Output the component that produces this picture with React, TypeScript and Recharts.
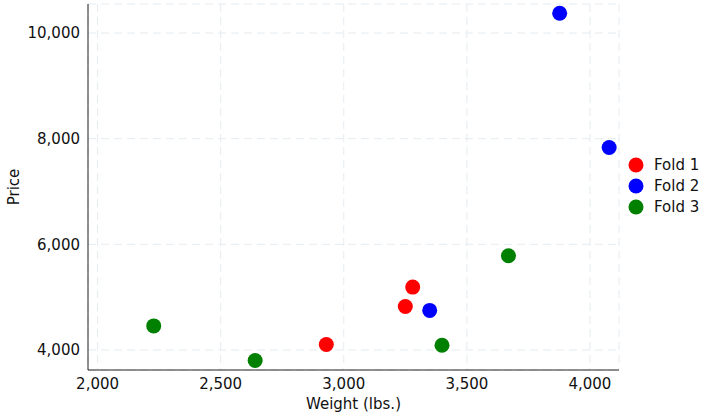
import {
  CartesianGrid,
  Legend,
  Scatter,
  ScatterChart,
  XAxis,
  YAxis,
} from "recharts";

const fold1Weight = [2929, 3250, 3280];
const fold1Price = [4102, 4823, 5190];
const fold2Weight = [3349, 3877, 4078];
const fold2Price = [4748, 10376, 7833];
const fold3Weight = [2228, 2640, 3399, 3669];
const fold3Price = [4455, 3799, 4089, 5784];

const xTicks = [2000, 2500, 3000, 3500, 4000];
const yTicks = [4000, 6000, 8000, 10000];

const series = [
  { name: "Fold 1", color: "#ff0000", weight: fold1Weight, price: fold1Price },
  { name: "Fold 2", color: "#0000ff", weight: fold2Weight, price: fold2Price },
  { name: "Fold 3", color: "#008000", weight: fold3Weight, price: fold3Price },
];

const font = "'DejaVu Sans', sans-serif";
const ink = "#111";
const fmt = (v: number) => v.toLocaleString("en-US");

function LegendBox() {
  return (
    <div style={{ fontFamily: font, fontSize: 15, color: ink }}>
      {series.map((s) => (
        <div
          key={s.name}
          style={{ display: "flex", alignItems: "center", height: 21.4 }}
        >
          <svg width={16} height={16} style={{ marginRight: 10 }}>
            <circle cx={8} cy={8} r={7.5} fill={s.color} />
          </svg>
          <span>{s.name}</span>
        </div>
      ))}
    </div>
  );
}

export default function App() {
  return (
    <div style={{ position: "absolute", left: 0, top: 0 }}>
      <ScatterChart
        width={701}
        height={412}
        margin={{ top: 4, right: 9, bottom: 0, left: 0 }}
      >
        <CartesianGrid stroke="#e4ecf0" strokeDasharray="8 5" />
        <XAxis
          type="number"
          dataKey="x"
          domain={[1961, 4118]}
          ticks={xTicks}
          tickFormatter={fmt}
          allowDataOverflow
          height={42}
          tickLine={false}
          axisLine={{ stroke: "#222" }}
          tick={{ fontSize: 15, fill: ink, fontFamily: font }}
          label={{
            value: "Weight (lbs.)",
            position: "insideBottom",
            offset: 3,
            style: { fontSize: 15, fill: ink, fontFamily: font },
          }}
        />
        <YAxis
          type="number"
          dataKey="y"
          domain={[3620, 10550]}
          ticks={yTicks}
          tickFormatter={fmt}
          allowDataOverflow
          width={88}
          tickLine={false}
          axisLine={{ stroke: "#222" }}
          tick={{ fontSize: 15, fill: ink, fontFamily: font }}
          label={{
            value: "Price",
            angle: -90,
            position: "insideLeft",
            offset: 14,
            style: {
              fontSize: 15,
              fill: ink,
              fontFamily: font,
              textAnchor: "middle",
            },
          }}
        />
        <Legend
          layout="vertical"
          align="right"
          verticalAlign="middle"
          width={73}
          wrapperStyle={{ left: 628, top: 154, width: 73 }}
          content={() => <LegendBox />}
        />
        {series.map((s) => (
          <Scatter
            key={s.name}
            name={s.name}
            data={s.weight.map((w, i) => ({ x: w, y: s.price[i] }))}
            fill={s.color}
            isAnimationActive={false}
            shape={(p: any) => (
              <circle cx={p.cx} cy={p.cy} r={7.5} fill={s.color} />
            )}
          />
        ))}
      </ScatterChart>
    </div>
  );
}
